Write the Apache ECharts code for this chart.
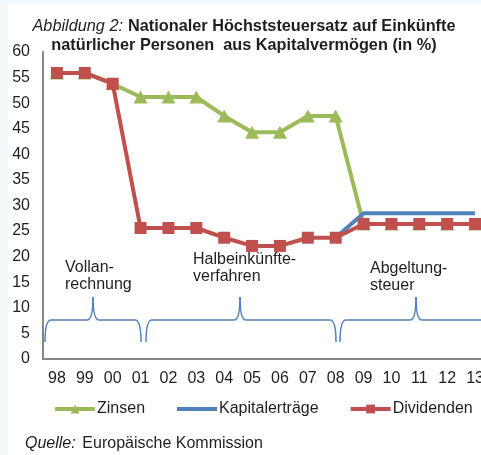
<!DOCTYPE html>
<html>
<head>
<meta charset="utf-8">
<script src="https://cdn.jsdelivr.net/npm/echarts@6/dist/echarts.min.js"></script>
<style>
  html, body { margin: 0; padding: 0; background: #f4f9fd; }
  #chart { width: 481px; height: 455px; }
</style>
</head>
<body>
<div id="chart"></div>
<script>
// Jahre (Kurzform)
const years = ['98', '99', '00', '01', '02', '03', '04', '05', '06', '07', '08', '09', '10', '11', '12', '13'];

// Höchststeuersätze in %
const zinsen = [55.9, 55.9, 53.8, 51.2, 51.2, 51.2, 47.5, 44.3, 44.3, 47.5, 47.5, 26.4, 26.4, 26.4, 26.4, 26.4];
const kapitalertraege = [null, null, null, null, null, null, null, null, null, null, 23.7, 28.5, 28.5, 28.5, 28.5, 28.5];
const dividenden = [55.9, 55.9, 53.8, 25.6, 25.6, 25.6, 23.7, 22.1, 22.1, 23.7, 23.7, 26.4, 26.4, 26.4, 26.4, 26.4];

const yTicks = { min: 0, max: 60, step: 5 };

const FONT = '"Liberation Sans", Arial, sans-serif';
const FS = 16;
const FS_TITLE = 16.3;
const TEXT = '#1f1f1f';
const AXIS = '#868686';
const BRACE = '#4f81bd';

const chart = echarts.init(document.getElementById('chart'), null, { renderer: 'canvas' });

// geschweifte Klammer (nach unten geöffnet) aus Linien und Kurven
function brace(x1, x2, xm, yEnd, yMid, yPeak, r) {
  const st = { stroke: BRACE, lineWidth: 1.5, fill: null };
  const curve = (ax, ay, cx, cy, bx, by) => ({
    type: 'bezierCurve', silent: true,
    shape: { x1: ax, y1: ay, x2: bx, y2: by, cpx1: cx, cpy1: cy },
    style: st
  });
  const line = (ax, ay, bx, by) => ({
    type: 'line', silent: true,
    shape: { x1: ax, y1: ay, x2: bx, y2: by },
    style: st
  });
  return [
    curve(x1, yEnd, x1, yMid, x1 + r, yMid),
    line(x1 + r, yMid, xm - r, yMid),
    curve(xm - r, yMid, xm, yMid, xm, yPeak),
    curve(xm, yPeak, xm, yMid, xm + r, yMid),
    line(xm + r, yMid, x2 - r, yMid),
    curve(x2 - r, yMid, x2, yMid, x2, yEnd)
  ];
}

const option = {
  backgroundColor: 'transparent',
  animation: false,
  textStyle: { fontFamily: FONT },
  title: {
    left: 239,
    top: 12,
    textAlign: 'center',
    text: '{i|Abbildung 2:} {b|Nationaler Höchststeuersatz auf Einkünfte}\n{b|natürlicher Personen  aus Kapitalvermögen (in %)}',
    textStyle: {
      fontFamily: FONT,
      fontWeight: 'normal',
      lineHeight: 19,
      rich: {
        i: { fontFamily: FONT, fontStyle: 'italic', fontWeight: 'normal', fontSize: FS_TITLE, color: TEXT, lineHeight: 19 },
        b: { fontFamily: FONT, fontWeight: 'bold', fontSize: FS_TITLE, color: TEXT, lineHeight: 19 }
      }
    }
  },
  grid: { left: 43, top: 52, width: 446, height: 307, containLabel: false, outerBoundsMode: 'none' },
  legend: {
    left: 48,
    top: 396,
    itemWidth: 40,
    itemHeight: 11,
    itemGap: 30,
    lineStyle: { width: 4 },
    textStyle: { fontFamily: FONT, fontSize: FS, color: TEXT, padding: [0, 0, 0, -3] },
    data: [
      'Zinsen',
      { name: 'Kapitalerträge', itemStyle: { opacity: 0 } },
      'Dividenden'
    ]
  },
  xAxis: {
    type: 'category',
    data: years,
    boundaryGap: true,
    axisLine: { lineStyle: { color: AXIS, width: 2 } },
    axisTick: { show: false },
    axisLabel: { fontFamily: FONT, fontSize: FS, color: TEXT, margin: 12, interval: 0 },
    splitLine: { show: false }
  },
  yAxis: {
    type: 'value',
    min: yTicks.min,
    max: yTicks.max,
    interval: yTicks.step,
    axisLine: { show: true, lineStyle: { color: AXIS, width: 2 } },
    axisTick: { show: false },
    axisLabel: { fontFamily: FONT, fontSize: FS, color: TEXT, margin: 13 },
    splitLine: { show: false }
  },
  series: [
    {
      name: 'Zinsen',
      type: 'line',
      data: zinsen,
      color: '#9bbb59',
      lineStyle: { width: 4, color: '#9bbb59' },
      symbol: 'triangle',
      symbolSize: [14, 13],
      itemStyle: { color: '#9bbb59' },
      z: 2
    },
    {
      name: 'Kapitalerträge',
      type: 'line',
      data: kapitalertraege,
      color: '#4f81bd',
      lineStyle: { width: 4, color: '#4f81bd' },
      symbol: 'none',
      showSymbol: false,
      itemStyle: { color: '#4f81bd' },
      z: 3
    },
    {
      name: 'Dividenden',
      type: 'line',
      data: dividenden,
      color: '#c0504d',
      lineStyle: { width: 4, color: '#c0504d' },
      symbol: 'rect',
      symbolSize: 12,
      itemStyle: { color: '#c0504d' },
      z: 4
    }
  ],
  graphic: [
    { type: 'rect', silent: true, z: -10, shape: { x: 8, y: 5, width: 481, height: 455 }, style: { fill: '#ffffff' } },
    ...brace(45, 141, 93, 342, 320, 297, 6),
    ...brace(146, 336, 240, 342, 320, 297, 6),
    ...brace(340, 530, 416, 342, 320, 297, 6),
    { type: 'text', silent: true, left: 65, top: 259, style: { text: 'Vollan-\nrechnung', font: FS + 'px ' + FONT, fill: TEXT, lineHeight: 17 } },
    { type: 'text', silent: true, left: 193, top: 251, style: { text: 'Halbeinkünfte-\nverfahren', font: FS + 'px ' + FONT, fill: TEXT, lineHeight: 17 } },
    { type: 'text', silent: true, left: 370, top: 260, style: { text: 'Abgeltung-\nsteuer', font: FS + 'px ' + FONT, fill: TEXT, lineHeight: 17 } },
    { type: 'text', silent: true, left: 25, top: 436, style: { rich: { i: { fontStyle: 'italic', fontSize: FS, fontFamily: FONT, fill: TEXT }, n: { fontSize: FS, fontFamily: FONT, fill: TEXT } }, text: '{i|Quelle:}  {n|Europäische Kommission}' } }
  ]
};

chart.setOption(option);
</script>
</body>
</html>
